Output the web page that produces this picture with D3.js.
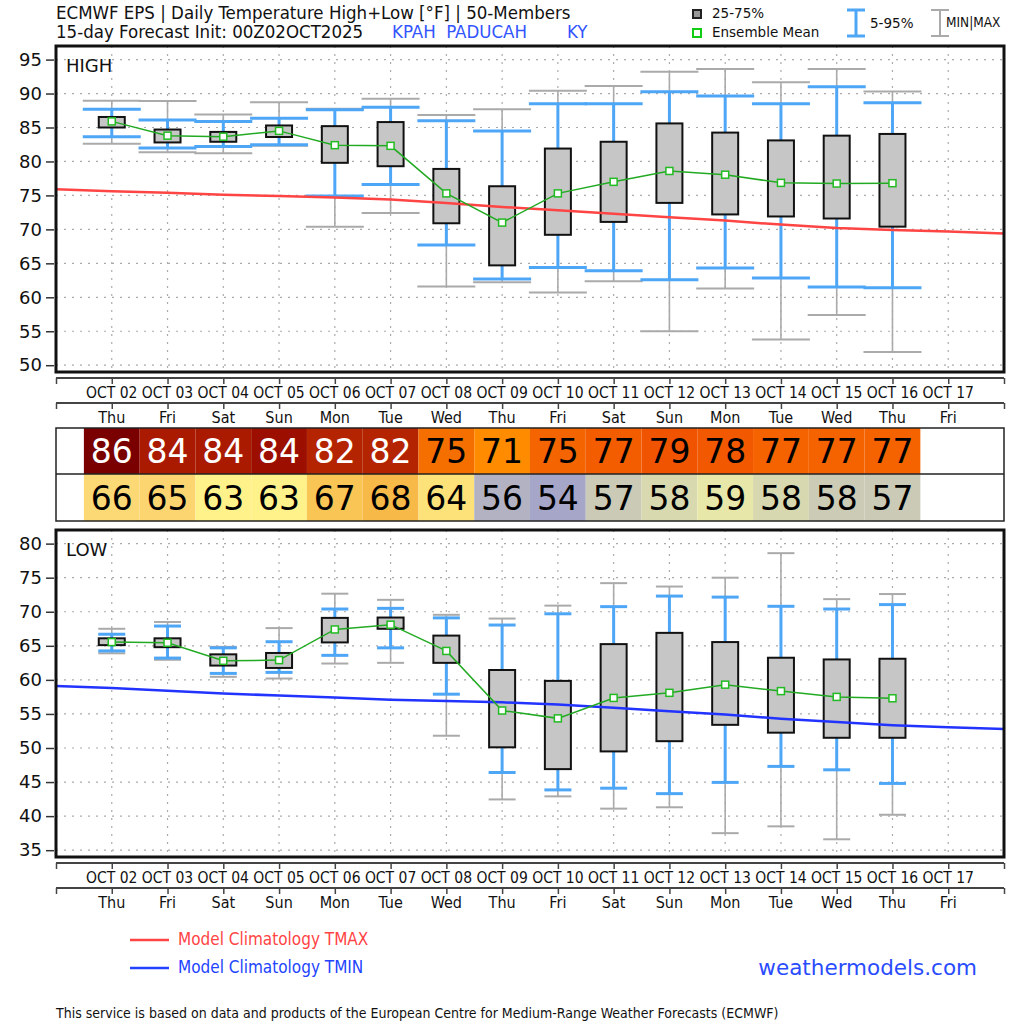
<!DOCTYPE html>
<html>
<head>
<meta charset="utf-8">
<script src="https://cdn.jsdelivr.net/npm/d3@7"></script>
<style>
  body { margin: 0; background: #fff; }
  svg { display: block; }
  text { font-family: "DejaVu Sans", sans-serif; }
  .cond { font-family: "DejaVu Sans Condensed", "DejaVu Sans", sans-serif; font-stretch: condensed; }
</style>
</head>
<body>
<div id="chart"></div>
<script>
// dates / weekdays (Oct 02 .. Oct 17)
const dates = ['OCT 02','OCT 03','OCT 04','OCT 05','OCT 06','OCT 07','OCT 08','OCT 09',
  'OCT 10','OCT 11','OCT 12','OCT 13','OCT 14','OCT 15','OCT 16','OCT 17'];
const weekdays = ['Thu','Fri','Sat','Sun','Mon','Tue','Wed','Thu','Fri','Sat','Sun','Mon','Tue','Wed','Thu','Fri'];

// daily high, Oct 02 .. Oct 16
const hiMin  = [82.6, 81.35, 81.2, 82.3, 70.4, 72.4, 61.6, 62.2, 60.7, 62.35, 55.0, 61.3, 53.8, 57.4, 51.95];
const hiP5   = [83.65, 82.0, 82.2, 82.45, 74.9, 76.6, 67.7, 62.7, 64.4, 63.9, 62.6, 64.3, 62.85, 61.5, 61.4];
const hiQ25  = [85.0, 82.8, 82.9, 83.6, 79.8, 79.3, 70.9, 64.7, 69.2, 71.1, 73.9, 72.2, 71.9, 71.6, 70.4];
const hiMean = [85.9, 83.8, 83.65, 84.5, 82.4, 82.3, 75.3, 71.0, 75.3, 77.0, 78.6, 78.05, 76.85, 76.75, 76.8];
const hiQ75  = [86.55, 84.7, 84.35, 85.3, 85.2, 85.8, 78.9, 76.35, 81.9, 82.9, 85.6, 84.25, 83.1, 83.8, 84.05];
const hiP95  = [87.7, 86.1, 85.9, 86.35, 87.6, 88.0, 86.0, 84.5, 88.5, 88.5, 90.25, 89.65, 88.5, 91.0, 88.65];
const hiMax  = [88.95, 88.9, 86.9, 88.7, 87.75, 89.25, 86.85, 87.7, 90.4, 91.1, 93.2, 93.6, 91.65, 93.6, 90.3];

// daily low, Oct 02 .. Oct 16
const loMin  = [63.9, 62.95, 60.45, 60.2, 62.4, 62.5, 51.8, 42.45, 42.9, 41.1, 41.3, 37.5, 38.5, 36.6, 40.2];
const loP5   = [64.25, 63.2, 60.95, 61.1, 63.6, 64.7, 57.9, 46.4, 43.85, 44.1, 43.3, 44.95, 47.3, 46.8, 44.8];
const loQ25  = [65.1, 64.8, 62.1, 61.75, 65.5, 67.5, 62.5, 50.1, 46.9, 49.5, 51.0, 53.4, 52.25, 51.5, 51.5];
const loMean = [65.55, 65.45, 62.8, 62.9, 67.4, 68.1, 64.25, 55.5, 54.35, 57.35, 58.1, 59.3, 58.35, 57.5, 57.3];
const loQ75  = [66.1, 66.1, 63.75, 63.95, 69.1, 69.15, 66.5, 61.45, 59.85, 65.25, 66.9, 65.55, 63.25, 63.0, 63.1];
const loP95  = [66.7, 67.9, 64.7, 65.6, 70.4, 70.5, 69.1, 68.05, 69.7, 70.75, 72.3, 72.15, 70.8, 70.4, 71.05];
const loMax  = [67.5, 68.5, 64.85, 67.6, 72.65, 71.75, 69.55, 69.0, 70.9, 74.2, 73.7, 75.0, 78.6, 71.85, 72.6];

// model climatology, Oct 01 .. Oct 18
const tmaxClim = [75.9, 75.6, 75.4, 75.1, 74.9, 74.7, 74.4, 73.9, 73.3, 72.8, 72.3, 71.8, 71.3, 70.7, 70.2, 69.9, 69.7, 69.4];
const tminClim = [59.1, 58.8, 58.4, 58.0, 57.7, 57.4, 57.1, 56.9, 56.7, 56.4, 55.9, 55.4, 54.9, 54.3, 53.8, 53.35, 53.05, 52.8];

// table rows
const hiTable = [86, 84, 84, 84, 82, 82, 75, 71, 75, 77, 79, 78, 77, 77, 77];
const loTable = [66, 65, 63, 63, 67, 68, 64, 56, 54, 57, 58, 59, 58, 58, 57];
const hiColors = ['#7a0000','#aa1a00','#aa1a00','#9c0e00','#b52400','#b52400','#f56e00','#ff8c00',
  '#f46400','#f45c00','#f05400','#f25800','#f56200','#f56200','#f56200'];
const loColors = ['#fdd976','#fdd570','#fff28a','#fff28a','#f9c555','#f7b948','#fde27a','#b2b2c2',
  '#a6a6c8','#cacab6','#d9d9b0','#e7e7a9','#d8d8b0','#cbcbb6','#cacab6'];

const W = 1024, H = 1024;
const BLUE = '#4ea6f7', GRAY = '#aaaaaa', GREEN = '#22aa22';

const svg = d3.select('#chart').append('svg')
  .attr('width', W).attr('height', H);

// day index 0 = Oct 01
const x = d3.scaleLinear().domain([0, 17]).range([56, 1004]);
const dayW = x(1) - x(0);

function drawPanel(opts) {
  const y = d3.scaleLinear().domain(opts.domain).range([opts.bottom, opts.top]);
  const g = svg.append('g');

  // grid
  g.selectAll('.hgrid').data(opts.ticks).enter().append('line')
    .attr('x1', x(0)).attr('x2', x(17))
    .attr('y1', d => y(d)).attr('y2', d => y(d))
    .attr('stroke', '#aaa').attr('stroke-width', 1.2).attr('stroke-dasharray', '2,6');
  g.selectAll('.vgrid').data(d3.range(1, 17)).enter().append('line')
    .attr('x1', d => x(d)).attr('x2', d => x(d))
    .attr('y1', opts.top).attr('y2', opts.bottom)
    .attr('stroke', '#aaa').attr('stroke-width', 1.2).attr('stroke-dasharray', '2,6');

  // y axis
  const yAxis = d3.axisLeft(y).tickValues(opts.ticks).tickSize(8).tickPadding(4);
  const ya = g.append('g').attr('transform', `translate(${x(0) - 2},0)`).call(yAxis);
  ya.select('.domain').remove();
  ya.selectAll('line').attr('stroke', '#333').attr('stroke-width', 1.5);
  ya.selectAll('text').attr('font-size', 18).attr('fill', '#111')
    .attr('font-family', '"DejaVu Sans", sans-serif');

  const idx = d3.range(opts.mean.length);
  const half = opts.capW / 2;

  // min/max whiskers
  g.selectAll('.mm').data(idx).enter().append('line')
    .attr('x1', i => x(i + 1)).attr('x2', i => x(i + 1))
    .attr('y1', i => y(opts.min[i])).attr('y2', i => y(opts.max[i]))
    .attr('stroke', GRAY).attr('stroke-width', 1.6);
  [opts.min, opts.max].forEach(arr => {
    g.selectAll(null).data(idx).enter().append('line')
      .attr('x1', i => x(i + 1) - half).attr('x2', i => x(i + 1) + half)
      .attr('y1', i => y(arr[i])).attr('y2', i => y(arr[i]))
      .attr('stroke', GRAY).attr('stroke-width', 2);
  });

  // 5-95 whiskers
  g.selectAll('.pp').data(idx).enter().append('line')
    .attr('x1', i => x(i + 1)).attr('x2', i => x(i + 1))
    .attr('y1', i => y(opts.p5[i])).attr('y2', i => y(opts.p95[i]))
    .attr('stroke', BLUE).attr('stroke-width', 3);
  [opts.p5, opts.p95].forEach(arr => {
    g.selectAll(null).data(idx).enter().append('line')
      .attr('x1', i => x(i + 1) - half).attr('x2', i => x(i + 1) + half)
      .attr('y1', i => y(arr[i])).attr('y2', i => y(arr[i]))
      .attr('stroke', BLUE).attr('stroke-width', 3);
  });

  // boxes
  g.selectAll('.box').data(idx).enter().append('rect')
    .attr('x', i => x(i + 1) - 13).attr('width', 26)
    .attr('y', i => y(opts.q75[i]))
    .attr('height', i => y(opts.q25[i]) - y(opts.q75[i]))
    .attr('fill', '#c6c6c6').attr('stroke', '#111').attr('stroke-width', 2);

  // climatology
  g.append('path').datum(opts.clim)
    .attr('d', d3.line().x((d, i) => x(i)).y(d => y(d)))
    .attr('fill', 'none').attr('stroke', opts.climColor).attr('stroke-width', 2.5);

  // ensemble mean
  g.append('path').datum(opts.mean)
    .attr('d', d3.line().x((d, i) => x(i + 1)).y(d => y(d)))
    .attr('fill', 'none').attr('stroke', GREEN).attr('stroke-width', 1.5);
  g.selectAll('.mean').data(opts.mean).enter().append('rect')
    .attr('x', (d, i) => x(i + 1) - 3.5).attr('y', d => y(d) - 3.5)
    .attr('width', 7).attr('height', 7)
    .attr('fill', '#fff').attr('stroke', '#22bb22').attr('stroke-width', 1.5);

  // frame
  g.append('rect')
    .attr('x', x(0)).attr('y', opts.top)
    .attr('width', x(17) - x(0)).attr('height', opts.bottom - opts.top)
    .attr('fill', 'none').attr('stroke', '#111').attr('stroke-width', 3);

  g.append('text').attr('x', 66).attr('y', opts.top + 26)
    .attr('font-size', 18).attr('fill', '#111').text(opts.label);

  // two-row date axis
  const a1 = opts.bottom + 6, a2 = opts.bottom + 31;
  [a1, a2].forEach(yy => {
    const ax = d3.axisBottom(x).tickValues(d3.range(0, 18)).tickSize(6).tickFormat('');
    const ag = g.append('g').attr('transform', `translate(0,${yy})`).call(ax);
    ag.select('.domain').attr('stroke', '#444').attr('stroke-width', 2).attr('d', `M${x(0)},0H${x(17)}`);
    ag.selectAll('line').attr('stroke', '#444').attr('stroke-width', 1.5);
  });
  g.selectAll('.dl').data(dates).enter().append('text')
    .attr('class', 'cond')
    .attr('x', (d, i) => x(i + 1)).attr('y', a1 + 20)
    .attr('text-anchor', 'middle').attr('font-size', 15.5).attr('fill', '#111')
    .text(d => d);
  g.selectAll('.wl').data(weekdays).enter().append('text')
    .attr('class', 'cond')
    .attr('x', (d, i) => x(i + 1)).attr('y', a2 + 20)
    .attr('text-anchor', 'middle').attr('font-size', 16).attr('fill', '#111')
    .text(d => d);
}

drawPanel({
  top: 46, bottom: 372, domain: [49, 97], ticks: d3.range(50, 96, 5), label: 'HIGH',
  min: hiMin, p5: hiP5, q25: hiQ25, mean: hiMean, q75: hiQ75, p95: hiP95, max: hiMax,
  clim: tmaxClim, climColor: '#ff4444', capW: 58
});
drawPanel({
  top: 530, bottom: 857, domain: [34, 82], ticks: d3.range(35, 81, 5), label: 'LOW',
  min: loMin, p5: loP5, q25: loQ25, mean: loMean, q75: loQ75, p95: loP95, max: loMax,
  clim: tminClim, climColor: '#2233ff', capW: 27
});

// table
const tTop = 428, tMid = 474, tBot = 521;
const tg = svg.append('g');
[[hiTable, hiColors, tTop, tMid], [loTable, loColors, tMid, tBot]].forEach(([vals, cols, y0, y1], r) => {
  tg.selectAll(null).data(vals).enter().append('rect')
    .attr('x', (d, i) => x(i + 0.5)).attr('width', dayW)
    .attr('y', y0).attr('height', y1 - y0)
    .attr('fill', (d, i) => cols[i]);
  tg.selectAll(null).data(vals).enter().append('text')
    .attr('x', (d, i) => x(i + 1)).attr('y', y1 - 11)
    .attr('text-anchor', 'middle').attr('font-size', 33)
    .attr('fill', (d, i) => (r === 0 && i < 6) ? '#fff' : '#000')
    .text(d => d);
});
tg.append('rect').attr('x', x(0)).attr('y', tTop)
  .attr('width', x(17) - x(0)).attr('height', tBot - tTop)
  .attr('fill', 'none').attr('stroke', '#222').attr('stroke-width', 1.5);
tg.append('line').attr('x1', x(0)).attr('x2', x(17)).attr('y1', tMid).attr('y2', tMid)
  .attr('stroke', '#222').attr('stroke-width', 1.5);

// header
const hd = svg.append('g');
hd.append('text').attr('class', 'cond').attr('x', 56).attr('y', 19)
  .attr('font-size', 18.5).attr('fill', '#111')
  .text('ECMWF EPS | Daily Temperature High+Low [°F] | 50-Members');
hd.append('text').attr('class', 'cond').attr('x', 56).attr('y', 38)
  .attr('font-size', 18.5).attr('fill', '#111')
  .text('15-day Forecast Init: 00Z02OCT2025');
hd.append('text').attr('class', 'cond').attr('x', 392).attr('y', 38)
  .attr('font-size', 18.5).attr('fill', '#3355ff').attr('xml:space', 'preserve')
  .style('white-space', 'pre').text('KPAH  PADUCAH');
hd.append('text').attr('class', 'cond').attr('x', 567).attr('y', 38)
  .attr('font-size', 18.5).attr('fill', '#3355ff').text('KY');

// legend (top right)
hd.append('rect').attr('x', 693).attr('y', 10).attr('width', 8).attr('height', 8)
  .attr('fill', '#999').attr('stroke', '#222').attr('stroke-width', 2);
hd.append('text').attr('x', 712).attr('y', 18).attr('font-size', 13.5).attr('fill', '#111').text('25-75%');
hd.append('rect').attr('x', 693).attr('y', 29).attr('width', 8).attr('height', 8)
  .attr('fill', '#fff').attr('stroke', '#11cc11').attr('stroke-width', 2);
hd.append('text').attr('x', 712).attr('y', 37).attr('font-size', 13.5).attr('fill', '#111').text('Ensemble Mean');
[[856, BLUE, 3], [940, GRAY, 2]].forEach(([cx, col, sw]) => {
  hd.append('line').attr('x1', cx).attr('x2', cx).attr('y1', 10).attr('y2', 36).attr('stroke', col).attr('stroke-width', sw);
  hd.append('line').attr('x1', cx - 9).attr('x2', cx + 9).attr('y1', 10).attr('y2', 10).attr('stroke', col).attr('stroke-width', sw);
  hd.append('line').attr('x1', cx - 9).attr('x2', cx + 9).attr('y1', 36).attr('y2', 36).attr('stroke', col).attr('stroke-width', sw);
});
hd.append('text').attr('x', 870).attr('y', 28).attr('font-size', 13.5).attr('fill', '#111').text('5-95%');
hd.append('text').attr('class', 'cond').attr('x', 946).attr('y', 27).attr('font-size', 13.5).attr('fill', '#111').text('MIN|MAX');

// bottom legend
const bl = svg.append('g');
[[940, '#ff4444', 'Model Climatology TMAX'], [968, '#2244ff', 'Model Climatology TMIN']].forEach(([yy, col, t]) => {
  bl.append('line').attr('x1', 130).attr('x2', 169).attr('y1', yy).attr('y2', yy)
    .attr('stroke', col).attr('stroke-width', 2.5);
  bl.append('text').attr('class', 'cond').attr('x', 178).attr('y', yy + 5)
    .attr('font-size', 17).attr('fill', col).text(t);
});
bl.append('text').attr('x', 977).attr('y', 975).attr('text-anchor', 'end')
  .attr('font-size', 21.5).attr('fill', '#2a4cff').text('weathermodels.com');
bl.append('text').attr('class', 'cond').attr('x', 56).attr('y', 1018)
  .attr('font-size', 14).attr('fill', '#111')
  .text('This service is based on data and products of the European Centre for Medium-Range Weather Forecasts (ECMWF)');
</script>
</body>
</html>
